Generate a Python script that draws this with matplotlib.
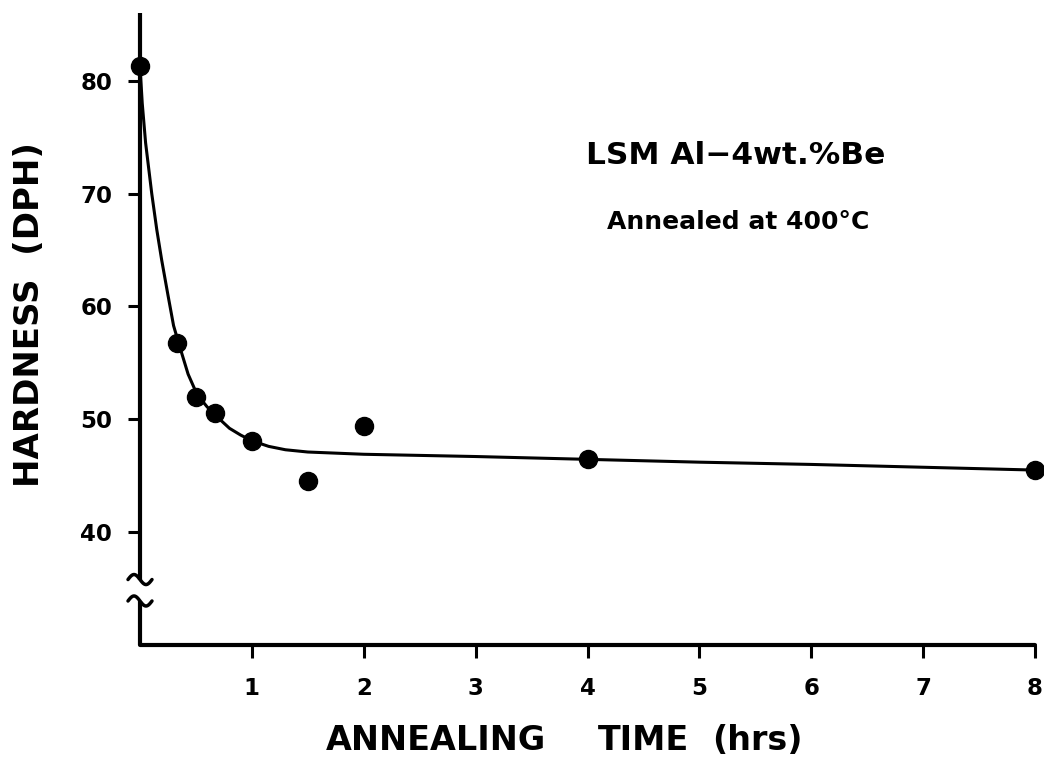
import numpy as np
import matplotlib
matplotlib.use("Agg")
import matplotlib.pyplot as plt

# measured hardness after annealing at 400 C
time_hrs = [0, 0.33, 0.5, 0.67, 1.0, 1.5, 2.0, 4.0, 8.0]
hardness = [81.3, 56.8, 52.0, 50.6, 48.1, 44.5, 49.4, 46.5, 45.5]

# hand drawn trend curve
curve_t = [0, 0.02, 0.05, 0.105, 0.15, 0.194, 0.25, 0.30, 0.35, 0.43, 0.51,
           0.60, 0.68, 0.80, 0.90, 1.0, 1.15, 1.3, 1.5, 1.75, 2.0, 3.0, 4.0,
           5.0, 6.0, 7.0, 8.0]
curve_h = [81.3, 78.0, 74.5, 70.0, 66.8, 64.1, 61.0, 58.3, 56.6, 54.0, 52.2,
           51.1, 50.3, 49.2, 48.6, 48.1, 47.6, 47.3, 47.1, 47.0, 46.9, 46.7,
           46.45, 46.2, 46.0, 45.75, 45.5]

x_ticks = [1, 2, 3, 4, 5, 6, 7, 8]
y_ticks = [40, 50, 60, 70, 80]
y_break = [33.9, 35.8]

plt.rcParams['font.family'] = ['DejaVu Sans']
plt.rcParams['font.weight'] = 'bold'

W, H = 1044, 764
fig = plt.figure(figsize=(W / 100, H / 100), dpi=100)
ax = fig.add_axes([140 / W, 1 - 645 / H, (1035 - 140) / W, (645 - 13) / H])
ax.set_xlim(0, 8)
ax.set_ylim(30, 86)

for s in ['top', 'right', 'left']:
    ax.spines[s].set_visible(False)
ax.spines['bottom'].set_linewidth(3.0)
ax.spines['bottom'].set_capstyle('round')

# left axis drawn in two pieces with a break
ax.plot([0, 0], [y_break[1], 86], color='black', lw=3.0, clip_on=False,
        solid_capstyle='butt')
ax.plot([0, 0], [30, y_break[0]], color='black', lw=3.0, clip_on=False,
        solid_capstyle='butt')
sx = np.linspace(-12, 12, 40)
for yb in y_break:
    ax.plot(sx / 111.9, yb - 5 * np.sin(np.pi * sx / 12) / 11.26,
            color='black', lw=2.5, clip_on=False, solid_capstyle='round')

ax.plot(curve_t, curve_h, color='black', lw=2.2, clip_on=False)
ax.plot(time_hrs, hardness, 'o', color='black', ms=13, clip_on=False, zorder=5)

ax.set_xticks(x_ticks)
ax.set_yticks(y_ticks)
ax.tick_params(axis='both', direction='out', length=9, width=2.2,
               labelsize=16.5)
ax.tick_params(axis='x', pad=14)
ax.tick_params(axis='y', pad=11)
for lab in ax.get_xticklabels() + ax.get_yticklabels():
    lab.set_fontweight('bold')

fig.text(30 / W, 1 - 315 / H, 'HARDNESS  (DPH)', rotation=90, fontsize=24.5,
         fontweight='bold', ha='center', va='center')
fig.text(436 / W, 1 - 740 / H, 'ANNEALING', fontsize=24, fontweight='bold',
         ha='center', va='center')
fig.text(644 / W, 1 - 740 / H, 'TIME', fontsize=24, fontweight='bold',
         ha='center', va='center')
fig.text(757 / W, 1 - 740 / H, '(hrs)', fontsize=24, fontweight='bold',
         ha='center', va='center')

fig.text(736 / W, 1 - 155 / H, 'LSM Al\u22124wt.%Be', fontsize=22.5,
         fontweight='bold', ha='center', va='center')
fig.text(738 / W, 1 - 222 / H, 'Annealed at 400\u00b0C', fontsize=18,
         fontweight='bold', ha='center', va='center')

fig.savefig('out.png', dpi=100)
